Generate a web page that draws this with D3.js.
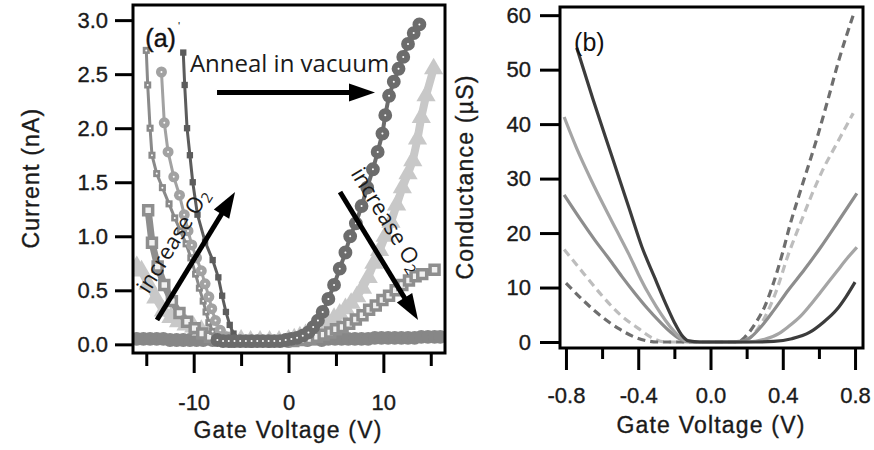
<!DOCTYPE html>
<html>
<head>
<meta charset="utf-8">
<script src="https://cdn.jsdelivr.net/npm/d3@7"></script>
<style>
  body { margin: 0; background: #fff; }
  svg { display: block; }
</style>
</head>
<body>
<svg id="chart" width="874" height="450"></svg>
<script>
// ---- panel (a): current (nA) vs gate voltage (V) ----
const annealDark = [[-7.5,0.04],[-6.9,0.03],[-6.3,0.03],[-5.7,0.03],[-5.1,0.03],[-4.5,0.03],[-3.9,0.03],[-3.3,0.03],[-2.7,0.03],[-2.1,0.03],[-1.5,0.03],[-0.9,0.03],[-0.3,0.04],
  [0.3,0.05],[0.9,0.06],[1.5,0.08],[2.1,0.11],[2.6,0.16],[3.1,0.22],[3.6,0.3],[4.2,0.42],[4.8,0.55],[5.4,0.7],[6,0.85],[6.5,1.0],[7.1,1.12],[7.7,1.28],[8.3,1.45],
  [8.9,1.62],[9.4,1.78],[9.9,1.95],[10.2,2.12],[10.6,2.3],[11.1,2.43],[11.6,2.55],[12.1,2.66],[12.6,2.78],[13.2,2.88],[13.8,2.96]];
const leftDark = [[-11.1,2.7],[-10.95,2.4],[-10.7,2.0],[-10.4,1.75],[-10.1,1.5],[-9.6,1.2],[-8.8,0.95],[-8.0,0.78],[-7.4,0.62],[-7.0,0.45],
  [-6.6,0.3],[-6.2,0.18],[-5.8,0.1],[-5.2,0.05]];
const lightTri = [[-16,0.72],[-15.5,0.68],[-14.8,0.56],[-14,0.43],[-13.2,0.31],[-12.4,0.25],[-11.6,0.21],[-10.8,0.18],[-10,0.16],[-9.2,0.13],[-8.4,0.1],
  [-7.6,0.08],[-6.8,0.06],[-6,0.05],[-5,0.04],[-4,0.03],[-3,0.03],[-2,0.03],[-1,0.03],[0,0.04],[0.6,0.05],[1.2,0.07],[1.8,0.09],[2.4,0.11],[3,0.14],[3.6,0.17],
  [4.2,0.2],[4.8,0.24],[5.4,0.28],[6,0.33],[6.6,0.38],[7.2,0.44],[7.8,0.52],[8.4,0.62],[9,0.75],[9.6,0.87],[10.2,1.0],[10.8,1.13],[11.4,1.29],[12,1.45],
  [12.6,1.58],[13.1,1.7],[13.6,1.9],[14,2.1],[14.5,2.3],[15.3,2.55]];
const flatBand = [[-16,0.05],[-15.3,0.05],[-14.6,0.05],[-13.9,0.05],[-13.2,0.05],[-12.5,0.04],[-11.8,0.04],[-11.1,0.04],[-10.4,0.04],[-9.7,0.04],[-9,0.04],
  [-8,0.04],[-6,0.03],[-4,0.03],[-2,0.03],[0,0.03],[2,0.04],[3.5,0.04],[4.2,0.05],[4.9,0.05],[5.6,0.05],[6.3,0.05],[7,0.05],[7.7,0.05],[8.4,0.05],[9.1,0.06],
  [9.8,0.06],[10.5,0.06],[11.2,0.06],[11.9,0.06],[12.6,0.06],[13.3,0.06],[14,0.07],[14.7,0.07],[15.4,0.07],[16,0.07]];
const hollowSquares = [[-14.8,1.24],[-14.4,0.94],[-13.8,0.72],[-13.1,0.55],[-12.3,0.4],[-11.5,0.29],[-10.7,0.21],[-9.9,0.15],[-9.1,0.1],[-8.3,0.07],[-7.5,0.05],
  [-6.5,0.04],[-5.5,0.03],[-4.5,0.03],[-3.5,0.03],[-2.5,0.03],[-1.5,0.03],[-0.5,0.03],[0.5,0.03],[1.5,0.04],[2.3,0.05],[3,0.07],[3.7,0.09],[4.4,0.11],[5,0.14],
  [5.7,0.16],[6.4,0.19],[7.1,0.23],[7.8,0.27],[8.5,0.32],[9.2,0.36],[9.9,0.41],[10.6,0.45],[11.3,0.5],[12,0.55],[12.7,0.59],[13.4,0.63],[14.1,0.65],[15.4,0.69]];
const smallSquares = [[-15,2.72],[-14.85,2.4],[-14.6,2.0],[-14.4,1.75],[-13.9,1.58],[-13.3,1.45],[-12.6,1.3],[-12,1.17],[-11.4,1.05],[-10.8,0.93],[-10.3,0.8],
  [-9.8,0.65],[-9.4,0.52],[-9.0,0.4],[-8.7,0.3],[-8.4,0.2],[-8,0.12],[-7.4,0.07],[-6.6,0.04]];
const openCircles = [[-13.4,2.52],[-13.1,2.05],[-12.7,1.78],[-12.1,1.55],[-11.5,1.38],[-11,1.2],[-10.6,1.05],[-10.2,0.92],[-9.7,0.8],[-9.2,0.68],[-8.8,0.56],
  [-8.4,0.44],[-8.1,0.33],[-7.7,0.22],[-7.2,0.13],[-6.5,0.07],[-5.8,0.04]];

const aYTicks = [0, 0.5, 1.0, 1.5, 2.0, 2.5, 3.0];
const aXTicks = [-10, 0, 10];
const aXMinor = [-15, -5, 5, 15];

// ---- panel (b): conductance (uS) vs gate voltage (V) ----
const darkSolid = [[-0.74,54],[-0.65,44.5],[-0.55,34.5],[-0.45,24.5],[-0.38,17.5],[-0.31,11.9],[-0.25,7.2],[-0.2,3.6],[-0.16,1.3],[-0.12,0.2],[-0.06,0],
  [0.1,0],[0.25,0],[0.35,0.1],[0.45,0.6],[0.55,1.8],[0.62,3.5],[0.7,6],[0.75,8.3],[0.8,11]];
const lightSolid = [[-0.81,41.3],[-0.74,35.5],[-0.66,29.7],[-0.59,25],[-0.52,20.5],[-0.45,16],[-0.4,12.5],[-0.35,9.3],[-0.3,6.5],[-0.25,4],[-0.2,1.9],
  [-0.16,0.6],[-0.12,0.1],[-0.05,0],[0.1,0],[0.2,0],[0.3,0.5],[0.38,1.6],[0.43,2.8],[0.5,4.8],[0.55,6.7],[0.61,9.2],[0.7,13],[0.76,15.5],[0.81,17.4]];
const midSolid = [[-0.81,27],[-0.72,22.5],[-0.64,18.7],[-0.56,15.2],[-0.49,12],[-0.42,9],[-0.35,6.2],[-0.28,3.7],[-0.22,1.8],[-0.17,0.6],[-0.12,0.05],
  [-0.05,0],[0.1,0],[0.16,0.1],[0.22,0.8],[0.28,2.8],[0.35,5.8],[0.43,9.5],[0.52,13.3],[0.61,17.4],[0.7,21.8],[0.81,27.3]];
const darkDashed = [[-0.8,10.8],[-0.7,7.5],[-0.6,4.6],[-0.5,2.3],[-0.42,0.9],[-0.35,0.2],[-0.3,0],[0,0],[0.15,0],[0.19,0.9],[0.25,3.5],[0.3,6.5],
  [0.34,10],[0.4,16.5],[0.44,21.5],[0.5,28],[0.59,37.5],[0.65,44.5],[0.71,51.7],[0.79,60]];
const lightDashed = [[-0.81,17],[-0.7,12.5],[-0.6,8.5],[-0.5,5],[-0.4,2.5],[-0.32,0.7],[-0.25,0],[0,0],[0.18,0],[0.24,1.5],[0.3,4.5],[0.36,9],[0.43,16],
  [0.5,22],[0.56,27],[0.62,31.5],[0.7,36.5],[0.79,42]];

const bYTicks = [0, 10, 20, 30, 40, 50, 60];
const bXTicks = [-0.8, -0.4, 0.0, 0.4, 0.8];
const bXMinor = [-0.6, -0.2, 0.2, 0.6];

const axisFont = '"Liberation Sans", Arial, Helvetica, sans-serif';
const noteFont = '"Open Sans", "Noto Sans", sans-serif';
const ink = '#1a1a1a';

const svg = d3.select('#chart');

// scales
const xA = d3.scaleLinear().domain([-16.4, 16.5]).range([133, 445]);
const yA = d3.scaleLinear().domain([-0.08, 3.14]).range([353, 5]);
const xB = d3.scaleLinear().domain([-0.833, 0.844]).range([560, 863]);
const yB = d3.scaleLinear().domain([-1.1, 61.5]).range([348, 7]);

const defs = svg.append('defs');
defs.append('clipPath').attr('id', 'clipA').append('rect')
  .attr('x', 133).attr('y', 5).attr('width', 312).attr('height', 348);
defs.append('clipPath').attr('id', 'clipB').append('rect')
  .attr('x', 560).attr('y', 7).attr('width', 303).attr('height', 341);

// ---------- panel (a) marks ----------
const plotA = svg.append('g').attr('clip-path', 'url(#clipA)');

// dense overlapping markers in the original read as thick bands, hence the wide strokes
const seriesA = [
  { data: flatBand,      color: '#878787', lw: 11,  sym: d3.symbolCircle,   size: 150 },
  { data: lightTri,      color: '#c8c8c8', lw: 8,   sym: d3.symbolTriangle, size: 160 },
  { data: hollowSquares, color: '#8e8e8e', lw: 7,   sym: d3.symbolSquare,   size: 80, hollow: true },
  { data: smallSquares,  color: '#8a8a8a', lw: 3,   sym: d3.symbolSquare,   size: 50, dot: 1 },
  { data: openCircles,   color: '#a2a2a2', lw: 3,   sym: d3.symbolCircle,   size: 95, dot: 1 },
  { data: leftDark,      color: '#5c5c5c', lw: 3,   sym: d3.symbolSquare,   size: 40 },
  { data: annealDark,    color: '#6c6c6c', lw: 4,   sym: d3.symbolCircle,   size: 150, dot: 1 },
];

const lineA = d3.line().x(d => xA(d[0])).y(d => yA(d[1]));

seriesA.forEach(s => {
  const g = plotA.append('g');
  g.append('path').datum(s.data)
    .attr('d', lineA).attr('fill', 'none')
    .attr('stroke', s.color).attr('stroke-width', s.lw)
    .attr('stroke-linejoin', 'round').attr('stroke-linecap', 'round');
  g.selectAll('path.mk').data(s.data).join('path')
    .attr('class', 'mk')
    .attr('transform', d => `translate(${xA(d[0])},${yA(d[1])})`)
    .attr('d', d3.symbol().type(s.sym).size(s.size))
    .attr('fill', s.hollow ? '#f0f0f0' : s.color)
    .attr('stroke', s.color).attr('stroke-width', s.hollow ? 3.5 : 0);
  if (s.dot) {
    g.selectAll('circle.dot').data(s.data).join('circle')
      .attr('class', 'dot')
      .attr('cx', d => xA(d[0])).attr('cy', d => yA(d[1]))
      .attr('r', s.dot).attr('fill', '#fff');
  }
});

// arrows and notes of panel (a), placed in data units
function arrow(g, x1, y1, x2, y2) {
  const dx = x2 - x1, dy = y2 - y1, len = Math.hypot(dx, dy);
  const ux = dx / len, uy = dy / len;
  const head = 26, half = 9;
  const bx = x2 - ux * head, by = y2 - uy * head;
  g.append('line')
    .attr('x1', x1).attr('y1', y1).attr('x2', bx + ux * 2).attr('y2', by + uy * 2)
    .attr('stroke', '#000').attr('stroke-width', 5);
  g.append('path')
    .attr('d', `M${x2},${y2}L${bx - uy * half},${by + ux * half}L${bx + uy * half},${by - ux * half}Z`)
    .attr('fill', '#000');
}

const notes = svg.append('g');
arrow(notes, xA(-7.54), yA(2.33), xA(9.12), yA(2.33));
arrow(notes, xA(-13.87), yA(0.226), xA(-5.64), yA(1.41));
arrow(notes, xA(5.43), yA(1.41), xA(13.66), yA(0.226));

notes.append('text')
  .attr('x', xA(-10.4)).attr('y', yA(2.52))
  .attr('font-family', noteFont).attr('font-size', 24).attr('fill', ink)
  .text('Anneal in vacuum');

function o2Label(x, y, angle) {
  const t = notes.append('text')
    .attr('transform', `translate(${x},${y}) rotate(${angle})`)
    .attr('font-family', noteFont).attr('font-size', 22).attr('fill', ink);
  t.append('tspan').text('increase O');
  t.append('tspan').attr('font-size', 15).attr('dy', 4).text('2');
}
o2Label(xA(-14.75), yA(0.46), -58.4);
o2Label(xA(6.5), yA(1.58), 58.6);

const tagA = notes.append('text')
  .attr('x', xA(-15.1)).attr('y', yA(2.75))
  .attr('font-family', axisFont).attr('font-size', 25).attr('fill', '#111')
  .attr('stroke', '#111').attr('stroke-width', 0.4);
tagA.append('tspan').text('(a)');
tagA.append('tspan').attr('font-size', 11).attr('dy', -17).attr('dx', 2)
  .attr('stroke', 'none').text('\'');

// ---------- panel (b) marks ----------
const plotB = svg.append('g').attr('clip-path', 'url(#clipB)');
const seriesB = [
  { data: lightDashed, color: '#bdbdbd', dash: '8,5' },
  { data: darkDashed,  color: '#6e6e6e', dash: '8,5' },
  { data: midSolid,    color: '#8d8d8d' },
  { data: lightSolid,  color: '#a5a5a5' },
  { data: darkSolid,   color: '#3c3c3c' },
];
const lineB = d3.line().x(d => xB(d[0])).y(d => yB(d[1])).curve(d3.curveMonotoneX);
seriesB.forEach(s => {
  plotB.append('path').datum(s.data)
    .attr('d', lineB).attr('fill', 'none')
    .attr('stroke', s.color).attr('stroke-width', 3.2)
    .attr('stroke-dasharray', s.dash || null);
});

svg.append('text')
  .attr('x', xB(-0.755)).attr('y', yB(53.5))
  .attr('font-family', axisFont).attr('font-size', 25).attr('fill', '#111')
  .text('(b)');

// ---------- frames and axes ----------
function styleAxis(g) {
  g.select('.domain').remove();
  g.selectAll('.tick line').attr('stroke', '#000').attr('stroke-width', 3);
  g.selectAll('.tick text')
    .attr('font-family', axisFont).attr('font-size', 22).attr('fill', ink)
    .attr('stroke', ink).attr('stroke-width', 0.35);
}

[[xA, yA], [xB, yB]].forEach(([x, y]) => {
  svg.append('rect')
    .attr('x', x.range()[0]).attr('y', y.range()[1])
    .attr('width', x.range()[1] - x.range()[0]).attr('height', y.range()[0] - y.range()[1])
    .attr('fill', 'none').attr('stroke', '#000').attr('stroke-width', 3);
});

svg.append('g').attr('transform', `translate(${xA.range()[0]},0)`)
  .call(d3.axisLeft(yA).tickValues(aYTicks).tickSize(18).tickPadding(7).tickFormat(d3.format('.1f')))
  .call(styleAxis);
svg.append('g').attr('transform', `translate(0,${yA.range()[0]})`)
  .call(d3.axisBottom(xA).tickValues(aXTicks).tickSize(20).tickPadding(21).tickFormat(d => String(d)))
  .call(styleAxis);
svg.append('g').attr('transform', `translate(0,${yA.range()[0]})`)
  .call(d3.axisBottom(xA).tickValues(aXMinor).tickSize(13).tickFormat(''))
  .call(styleAxis);

svg.append('g').attr('transform', `translate(${xB.range()[0]},0)`)
  .call(d3.axisLeft(yB).tickValues(bYTicks).tickSize(20).tickPadding(9).tickFormat(d => String(d)))
  .call(styleAxis);
svg.append('g').attr('transform', `translate(0,${yB.range()[0]})`)
  .call(d3.axisBottom(xB).tickValues(bXTicks).tickSize(22).tickPadding(17).tickFormat(d => d.toFixed(1)))
  .call(styleAxis);
svg.append('g').attr('transform', `translate(0,${yB.range()[0]})`)
  .call(d3.axisBottom(xB).tickValues(bXMinor).tickSize(11).tickFormat(''))
  .call(styleAxis);

// axis titles
function title(x, y, angle, txt) {
  svg.append('text')
    .attr('transform', `translate(${x},${y}) rotate(${angle})`)
    .attr('text-anchor', 'middle')
    .attr('font-family', axisFont).attr('font-size', 23).attr('letter-spacing', 1.2)
    .attr('fill', ink).attr('stroke', ink).attr('stroke-width', 0.35).text(txt);
}
title(288, 438, 0, 'Gate Voltage (V)');
title(711, 433, 0, 'Gate Voltage (V)');
title(39, 178, -90, 'Current (nA)');
title(473, 177, -90, 'Conductance (\u00b5S)');
</script>
</body>
</html>
